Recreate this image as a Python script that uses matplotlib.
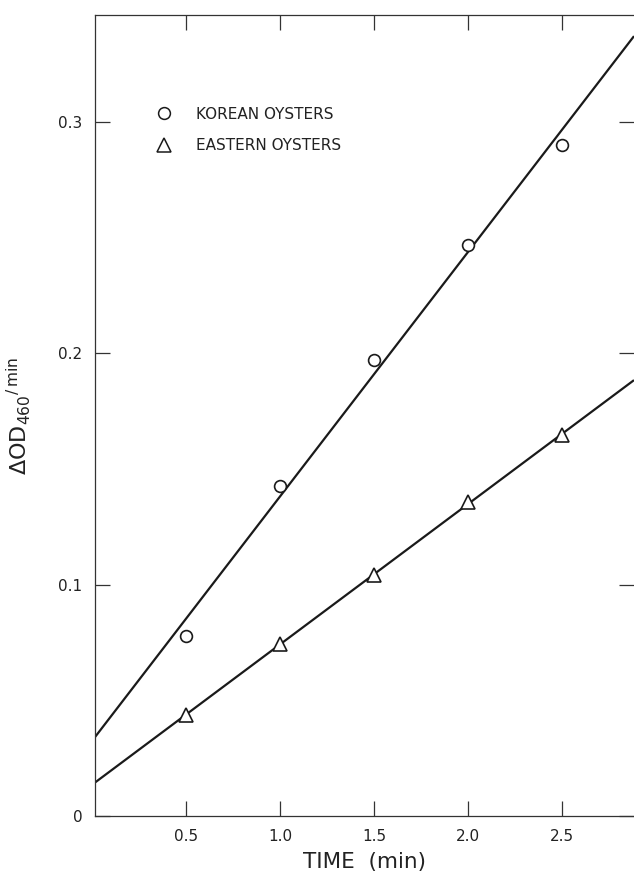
import numpy as np
import matplotlib
matplotlib.use("Agg")
import matplotlib.pyplot as plt
from matplotlib.lines import Line2D

# Reaction rate vs. time for two oyster sources
time_min = [0.5, 1.0, 1.5, 2.0, 2.5]
korean_od = [0.078, 0.1428, 0.197, 0.2469, 0.2902]
eastern_od = [0.0437, 0.0744, 0.104, 0.1358, 0.1647]

x_ticks = [0.5, 1.0, 1.5, 2.0, 2.5]
x_tick_labels = ["0.5", "1.0", "1.5", "2.0", "2.5"]
y_ticks = [0, 0.1, 0.2, 0.3]
y_tick_labels = ["0", "0.1", "0.2", "0.3"]

plt.rcParams["font.family"] = ["DejaVu Sans"]
plt.rcParams["mathtext.fontset"] = "dejavusans"

fig = plt.figure(figsize=(6.34, 8.8), dpi=100)
ax = fig.add_axes([95 / 634, 1 - 816 / 880, (634 - 95) / 634, (816 - 15) / 880])

xlim = (0.016, 2.883)
ylim = (0.0, 0.3463)
ax.set_xlim(*xlim)
ax.set_ylim(*ylim)

# Least-squares lines through each series, spanning the whole axis
xs = np.array(xlim)
for ys in (korean_od, eastern_od):
    slope, icpt = np.polyfit(time_min, ys, 1)
    ax.plot(xs, icpt + slope * xs, color="#1a1a1a", lw=1.6, zorder=2,
            solid_capstyle="butt")

ax.plot(time_min, korean_od, linestyle="none", marker="o", ms=8.5,
        mfc="white", mec="#1a1a1a", mew=1.2, zorder=3)
ax.plot(time_min, eastern_od, linestyle="none", marker="^", ms=9.5,
        mfc="white", mec="#1a1a1a", mew=1.2, zorder=3)

# Spines and inward ticks on all sides
for side in ("left", "bottom", "top"):
    ax.spines[side].set_color("#333333")
    ax.spines[side].set_linewidth(0.9)
ax.spines["right"].set_visible(False)

ax.set_xticks(x_ticks)
ax.set_xticklabels(x_tick_labels)
ax.set_yticks(y_ticks)
ax.set_yticklabels(y_tick_labels)
ax.tick_params(axis="both", direction="in", length=11, width=0.9,
               color="#333333", labelsize=11, pad=9, labelcolor="#222222",
               top=True, right=True)

ax.set_xlabel("TIME  (min)", fontsize=15.5, color="#222222", labelpad=6)
ax.set_ylabel(r"$\Delta\mathrm{OD}_{460}{}^{/\,\mathrm{min}}$", fontsize=16,
              color="#222222", labelpad=18)

handles = [
    Line2D([], [], linestyle="none", marker="o", ms=8.5, mfc="white",
           mec="#1a1a1a", mew=1.1),
    Line2D([], [], linestyle="none", marker="^", ms=9.5, mfc="white",
           mec="#1a1a1a", mew=1.1),
]
ax.legend(handles, ["KOREAN OYSTERS", "EASTERN OYSTERS"], frameon=False,
          loc="upper left", bbox_to_anchor=(0.102, 0.893), fontsize=11,
          handlelength=1.0, handletextpad=1.6, labelspacing=1.05,
          labelcolor="#222222", borderaxespad=0)

fig.savefig("out.png", dpi=100, facecolor="white")
